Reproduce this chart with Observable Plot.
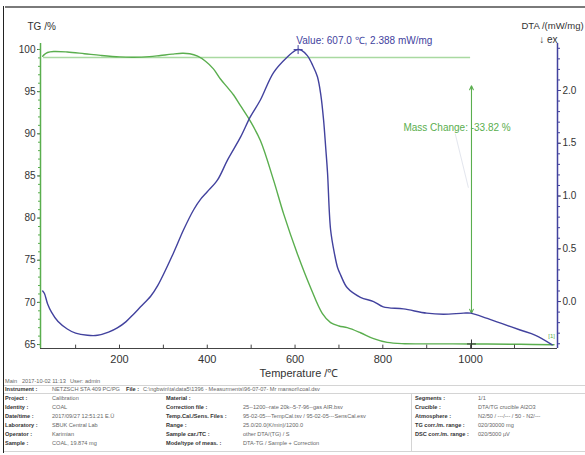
<!DOCTYPE html>
<html><head><meta charset="utf-8">
<script src="https://cdn.jsdelivr.net/npm/d3@7"></script>
<script src="https://cdn.jsdelivr.net/npm/@observablehq/plot@0.6"></script>
<style>
html,body{margin:0;padding:0;background:#fff;}
#wrap{position:relative;width:585px;height:455px;overflow:hidden;font-family:"Liberation Sans",Arial,sans-serif;}
#chart{position:absolute;left:0;top:0;}
.frameTop{position:absolute;left:5px;top:6px;width:580px;height:2px;background:#7a7a7a;}
.frameLeft{position:absolute;left:3px;top:6px;width:1px;height:447px;background:#222;}
.hl{position:absolute;height:1px;background:#d4d4d4;}
.vl{position:absolute;width:1px;background:#d4d4d4;}
.cell{position:absolute;font-size:5.6px;line-height:6px;white-space:nowrap;color:#666;}
.lab{font-weight:bold;color:#333;}
</style></head>
<body><div id="wrap"><div id="chart"></div><div class="frameTop"></div><div class="frameLeft"></div><div id="table"></div></div>
<script>
// ---- data ----
const tgTemp = [25,30,36,50,81,120,157,200,232,268,293,320,343,360,378,396,414,430,446,460,476,498,521,551,574,605,635,662,681,700,719,749,779,810,850,886,1000,1113,1190];
const tgValue = [99.2,99.45,99.64,99.76,99.7,99.5,99.3,99.12,99.08,99.15,99.29,99.45,99.55,99.5,99.2,98.6,97.7,96.5,95.5,94.6,93.3,91.5,89.2,84.5,80.5,75.8,71.8,68.7,67.6,67.2,67.0,66.4,65.7,65.25,65.1,65.08,65.07,65.03,64.98];
const dtaTemp = [25,29,36,45,60,81,100,127,150,175,195,215,232,248,271,287,323,346,369,385,400,423,446,476,498,521,551,583,601,607,615,628,640,651,659,665,670,674,681,690,697,704,719,749,779,801,847,900,938,984,1000,1038,1072,1113,1148,1186];
const dtaValue = [0.10,0.076,-0.02,-0.10,-0.19,-0.26,-0.30,-0.32,-0.32,-0.29,-0.25,-0.19,-0.12,-0.05,0.05,0.15,0.46,0.68,0.87,0.97,1.04,1.15,1.34,1.56,1.75,1.91,2.17,2.32,2.38,2.388,2.38,2.33,2.24,2.13,1.95,1.72,1.45,1.22,0.68,0.45,0.32,0.25,0.13,0.04,0.0,-0.05,-0.07,-0.11,-0.12,-0.11,-0.11,-0.16,-0.21,-0.27,-0.32,-0.41];
const xTickLabels = [200,400,600,800,1000];
const xTickMinor = [100,200,300,400,500,600,700,800,900,1000,1100];
const tgTicks = [65,70,75,80,85,90,95,100];
const tgMinor = d3.range(65,101,1);
const dtaTicks = [0.0,0.5,1.0,1.5,2.0];
const dtaMinor = d3.range(-4,25,1).map(v=>v/10);
const peakT = [607.0], peakDTA = [2.388];
const massLevel = [99.05];
const massArrowT = [1002];
const massArrowTop = [95.7], massArrowBottom = [68.7];
const massText = ["Mass Change: -33.82 %"];
const valueText = ["Value: 607.0 \u2103, 2.388 mW/mg"];

// domains & secondary-axis conversion (DTA drawn on TG scale)
const xDomain = [20,1198];
const yDomain = [64.53,100.71];
const dtaOffset = 70.10, dtaScale = 12.517;
const toY = d => dtaOffset + dtaScale*d;
const green = "#5aae4e", blue = "#42429e", lightGreen = "#a9d9a1";

const tg = tgTemp.map((t,i)=>({t, v: tgValue[i]}));
const dta = dtaTemp.map((t,i)=>({t, v: dtaValue[i]}));
const arrowRows = massArrowT.map((t,i)=>({t, a: massArrowTop[i], b: massArrowBottom[i], m: (massArrowTop[i]+massArrowBottom[i])/2}));
const leaderRows = [{t1: 965, t2: 995, a: 90.0, b: 83.6}];
const peakRows = peakT.map((t,i)=>({t, v: toY(peakDTA[i])}));
const markRows = massArrowT.map(t=>({t, v: 65.07}));

const chart = Plot.plot({
  width: 585, height: 380,
  marginLeft: 40, marginRight: 28, marginTop: 43, marginBottom: 32,
  style: {fontFamily: "Liberation Sans, Arial, sans-serif", fontSize: "10px", background: "transparent", color: "#333", overflow: "visible"},
  x: {domain: xDomain},
  y: {domain: yDomain},
  marks: [
    Plot.ruleY(massLevel, {x1: 27, x2: 1000, stroke: lightGreen, strokeWidth: 1.3}),
    Plot.link(leaderRows, {x1: "t1", x2: "t2", y1: "a", y2: "b", stroke: "#e3e6ee", strokeWidth: 1}),
    Plot.arrow(arrowRows, {x1: "t", x2: "t", y1: "m", y2: "a", stroke: green, strokeWidth: 1.1, headLength: 6, headAngle: 50}),
    Plot.arrow(arrowRows, {x1: "t", x2: "t", y1: "m", y2: "b", stroke: green, strokeWidth: 1.1, headLength: 6, headAngle: 50}),
    Plot.line(tg, {x: "t", y: "v", stroke: green, strokeWidth: 1.4, curve: "catmull-rom"}),
    Plot.line(dta, {x: "t", y: d => toY(d.v), stroke: blue, strokeWidth: 1.4, curve: "catmull-rom"}),
    Plot.dot(peakRows, {x: "t", y: "v", symbol: "plus", r: 3, stroke: blue, strokeWidth: 1}),
    Plot.dot(markRows, {x: "t", y: "v", symbol: "plus", r: 3, stroke: "#333", strokeWidth: 1}),
    Plot.text(valueText, {x: () => 603, y: () => 101.05, text: d => d, textAnchor: "start", fill: blue, fontSize: 10}),
    Plot.text(massText, {x: () => 847, y: () => 90.75, text: d => d, textAnchor: "start", fill: green, fontSize: 10}),
    Plot.text(["[1]"], {x: () => 1177, y: () => 66.0, text: d => d, textAnchor: "start", fill: green, fontSize: 6}),
    // axes
    Plot.ruleX([xDomain[0]], {stroke: green, strokeWidth: 1.5}),
    Plot.ruleX([xDomain[1]], {stroke: blue, strokeWidth: 1.5}),
    Plot.ruleY([yDomain[0]], {stroke: "#444", strokeWidth: 1.2}),
    Plot.axisY(tgTicks, {anchor: "left", tickSize: 3, tickPadding: 2, stroke: "#555", fill: "#333", label: null}),
    Plot.axisY(tgMinor, {anchor: "left", tickSize: 2, text: null, stroke: green, label: null}),
    Plot.axisY(dtaTicks.map(toY), {anchor: "right", tickSize: 3, tickPadding: 2, stroke: "#555", fill: "#333", label: null, tickFormat: v => ((v - dtaOffset)/dtaScale).toFixed(1)}),
    Plot.axisY(dtaMinor.map(toY), {anchor: "right", tickSize: 2, text: null, stroke: blue, label: null}),
    Plot.axisX(xTickLabels, {tickSize: 0, tickPadding: 7, fill: "#333", label: null, fontSize: 11, tickFormat: d => String(d)}),
    Plot.ruleX(xTickMinor, {y1: () => yDomain[0], y2: () => yDomain[0] + 0.4, stroke: "#444"}),
    Plot.text(["TG /%"], {frameAnchor: "top-left", dx: -13, dy: -21, textAnchor: "start", fill: "#333", fontSize: 10}),
    Plot.text(["DTA /(mW/mg)"], {frameAnchor: "top-right", dx: -36, dy: -21, textAnchor: "start", fill: "#333", fontSize: 9.5}),
    Plot.text(["\u2193 ex"], {frameAnchor: "top-right", dx: 0, dy: -8, textAnchor: "end", fill: "#333", fontSize: 10}),
    Plot.text(["Temperature /\u2103"], {frameAnchor: "bottom", dy: 28, fill: "#333", fontSize: 11})
  ]
});
document.getElementById("chart").appendChild(chart);

// ---- info table under the chart ----
const mainLine = ["Main", "2017-10-02 11:13", "User: admin"];
const instrumentRow = ["Instrument :", "NETZSCH STA 409 PC/PG", "File :", "C:\\ngbwin\\ta\\data5\\1396 - Measurments\\96-07-07- Mr mansori\\coal.dsv"];
const col1Labels = ["Project :", "Identity :", "Date/time :", "Laboratory :", "Operator :", "Sample :"];
const col1Values = ["Calibration", "COAL", "2017/09/27 12:51:21 E.Ü", "SBUK Central Lab", "Karimian", "COAL, 19.874 mg"];
const col2Labels = ["Material :", "Correction file :", "Temp.Cal./Sens. Files :", "Range :", "Sample car./TC :", "Mode/type of meas. :"];
const col2Values = ["", "25--1200--rate 20k--5-7-96--gas AIR.bsv", "95-02-05---TempCal.tsv / 95-02-05---SensCal.esv", "25.0/20.0(K/min)/1200.0", "other DTA/(TG) / S", "DTA-TG / Sample + Correction"];
const col3Labels = ["Segments :", "Crucible :", "Atmosphere :", "TG corr./m. range :", "DSC corr./m. range :"];
const col3Values = ["1/1", "DTA/TG crucible Al2O3", "N2/50 / ---/--- / 50 - N2/---", "020/30000 mg", "020/5000 \u00b5V"];

const tbl = document.getElementById("table");
function cell(txt, x, y, lab){ const d=document.createElement("div"); d.className="cell"+(lab?" lab":""); d.style.left=x+"px"; d.style.top=(y-3)+"px"; d.textContent=txt; tbl.appendChild(d); }
function line(cls, x, y, len){ const d=document.createElement("div"); d.className=cls; d.style.left=x+"px"; d.style.top=y+"px"; if(cls==="hl") d.style.width=len+"px"; else d.style.height=len+"px"; tbl.appendChild(d); }
cell(mainLine[0], 5, 381); cell(mainLine[1], 22, 381); cell(mainLine[2], 70, 381);
line("hl", 4, 385, 581); line("hl", 4, 393, 581); line("hl", 4, 451, 581); line("vl", 411, 393, 58);
cell(instrumentRow[0], 5, 389, true); cell(instrumentRow[1], 52, 389); cell(instrumentRow[2], 126, 389, true); cell(instrumentRow[3], 143, 389);
col1Labels.forEach((s,i)=>{ cell(s, 5, 398+9*i, true); cell(col1Values[i], 52, 398+9*i); });
col2Labels.forEach((s,i)=>{ cell(s, 166, 398+9*i, true); cell(col2Values[i], 243, 398+9*i); });
col3Labels.forEach((s,i)=>{ cell(s, 415, 398+9*i, true); cell(col3Values[i], 478, 398+9*i); });
</script></body></html>
